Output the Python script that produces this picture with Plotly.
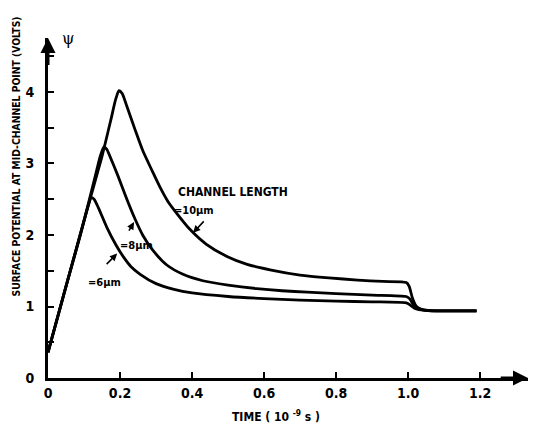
import plotly.graph_objects as go

# Surface potential at the mid-channel point vs. time, for three channel lengths
t_10 = [0, 0.05, 0.10, 0.15, 0.175, 0.188, 0.197, 0.206, 0.219, 0.242, 0.264,
        0.289, 0.311, 0.333, 0.358, 0.394, 0.44, 0.497, 0.553, 0.62, 0.70,
        0.78, 0.86, 0.93, 0.995, 1.003, 1.012, 1.022, 1.035, 1.055, 1.08, 1.19]
psi_10 = [0.36, 1.28, 2.2, 3.1, 3.62, 3.9, 4.02, 3.98, 3.8, 3.47, 3.17,
          2.9, 2.67, 2.47, 2.3, 2.08, 1.87, 1.7, 1.59, 1.51, 1.44,
          1.40, 1.37, 1.35, 1.335, 1.28, 1.12, 1.01, 0.965, 0.945, 0.94, 0.94]

t_8 = [0, 0.05, 0.10, 0.13, 0.145, 0.155, 0.163, 0.172, 0.194, 0.219, 0.242,
       0.264, 0.292, 0.33, 0.375, 0.43, 0.50, 0.58, 0.65, 0.72, 0.80, 0.90,
       0.995, 1.004, 1.014, 1.025, 1.038, 1.058, 1.08, 1.19]
psi_8 = [0.36, 1.28, 2.2, 2.8, 3.1, 3.23, 3.2, 3.1, 2.83, 2.5, 2.22,
         1.99, 1.78, 1.58, 1.45, 1.36, 1.30, 1.25, 1.22, 1.2, 1.18, 1.16,
         1.14, 1.11, 1.03, 0.98, 0.955, 0.943, 0.94, 0.94]

t_6 = [0, 0.05, 0.09, 0.11, 0.12, 0.128, 0.14, 0.164, 0.19, 0.21, 0.23, 0.256,
       0.30, 0.35, 0.40, 0.50, 0.60, 0.70, 0.80, 0.90, 0.995, 1.006, 1.018,
       1.03, 1.045, 1.065, 1.19]
psi_6 = [0.36, 1.28, 2.0, 2.38, 2.52, 2.5, 2.38, 2.1, 1.85, 1.69, 1.56, 1.45,
         1.32, 1.24, 1.19, 1.14, 1.11, 1.09, 1.075, 1.065, 1.05, 1.02, 0.975,
         0.955, 0.945, 0.94, 0.94]

x_ticks = [0, 0.2, 0.4, 0.6, 0.8, 1.0, 1.2]
x_tick_labels = ["0", "0.2", "0.4", "0.6", "0.8", "1.0", "1.2"]
y_ticks = [0, 0.5, 1, 1.5, 2, 2.5, 3, 3.5, 4, 4.5]
y_tick_labels = ["0", "", "1", "", "2", "", "3", "", "4", ""]

X_MAX = 1.333
Y_MAX = 4.755

FONT = "Liberation Sans Narrow, DejaVu Sans Condensed, Arial Narrow, sans-serif"

fig = go.Figure()
for xs, ys in [(t_10, psi_10), (t_8, psi_8), (t_6, psi_6)]:
    fig.add_trace(go.Scatter(
        x=xs, y=ys, mode="lines",
        line=dict(color="black", width=2.8, shape="spline", smoothing=0.6),
        showlegend=False, hoverinfo="skip",
    ))

axis_common = dict(
    showgrid=False, zeroline=False, showline=True, linecolor="black",
    linewidth=3, ticks="inside", ticklen=6, tickwidth=2, tickcolor="black",
    tickfont=dict(family=FONT, size=14, color="black", weight="bold"),
)
fig.update_xaxes(range=[0, X_MAX], tickvals=x_ticks, ticktext=x_tick_labels,
                 **axis_common)
fig.update_yaxes(range=[0, Y_MAX], tickvals=y_ticks, ticktext=y_tick_labels,
                 ticklabelstandoff=8, **axis_common)

ann = []
# arrowheads on both axes
ann.append(dict(x=X_MAX, y=0, ax=X_MAX - 0.08, ay=0, xref="x", yref="y",
                axref="x", ayref="y", text="", showarrow=True, arrowhead=2,
                arrowsize=1.0, arrowwidth=3, arrowcolor="black"))
ann.append(dict(x=0, y=Y_MAX, ax=0, ay=Y_MAX - 0.4, xref="x", yref="y",
                axref="x", ayref="y", text="", showarrow=True, arrowhead=2,
                arrowsize=1.0, arrowwidth=3, arrowcolor="black"))
# axis symbols
ann.append(dict(x=0.025, y=1.0, xref="paper", yref="paper", text="ψ",
                yanchor="middle", showarrow=False,
                font=dict(family="DejaVu Serif", size=16, color="black")))
ann.append(dict(x=X_MAX + 0.04, y=0.03, xref="x", yref="y", text="<i>t</i>",
                showarrow=False, font=dict(family="DejaVu Serif", size=20,
                                           color="black")))
# axis titles
ann.append(dict(x=-0.083, y=0.652, xref="paper", yref="paper",
                text="SURFACE POTENTIAL AT MID-CHANNEL POINT (VOLTS)",
                textangle=-90, showarrow=False,
                font=dict(family=FONT, size=10.3, color="black", weight="bold")))
ann.append(dict(x=0.475, y=-0.14, xref="paper", yref="paper",
                text="TIME ( 10 <sup>-9</sup> s )", showarrow=False,
                font=dict(family=FONT, size=12, color="black", weight="bold")))
# curve labels
ann.append(dict(x=0.514, y=2.6, xref="x", yref="y", text="CHANNEL LENGTH",
                showarrow=False,
                font=dict(family=FONT, size=12, color="black", weight="bold")))
label_font = dict(family=FONT, size=11, color="black", weight="bold")
ann.append(dict(x=0.405, y=2.34, xref="x", yref="y", text="=10µm",
                showarrow=False, xanchor="center", font=label_font))
ann.append(dict(x=0.246, y=1.86, xref="x", yref="y", text="=8µm",
                showarrow=False, xanchor="center", font=label_font))
ann.append(dict(x=0.158, y=1.33, xref="x", yref="y", text="=6µm",
                showarrow=False, xanchor="center", font=label_font))
# pointers from labels to curves
for tip_x, tip_y, dx, dy in [(0.403, 2.03, 12, -13), (0.239, 2.18, -6, 10),
                             (0.192, 1.74, -12, 12)]:
    ann.append(dict(x=tip_x, y=tip_y, xref="x", yref="y", ax=dx, ay=dy,
                    text="", showarrow=True, arrowhead=2, arrowsize=0.9,
                    arrowwidth=1.6, arrowcolor="black"))

fig.update_layout(
    width=554, height=428,
    margin=dict(l=48, r=26, t=38, b=50),
    paper_bgcolor="white", plot_bgcolor="white",
    annotations=ann,
)

fig.write_html("out.html")
